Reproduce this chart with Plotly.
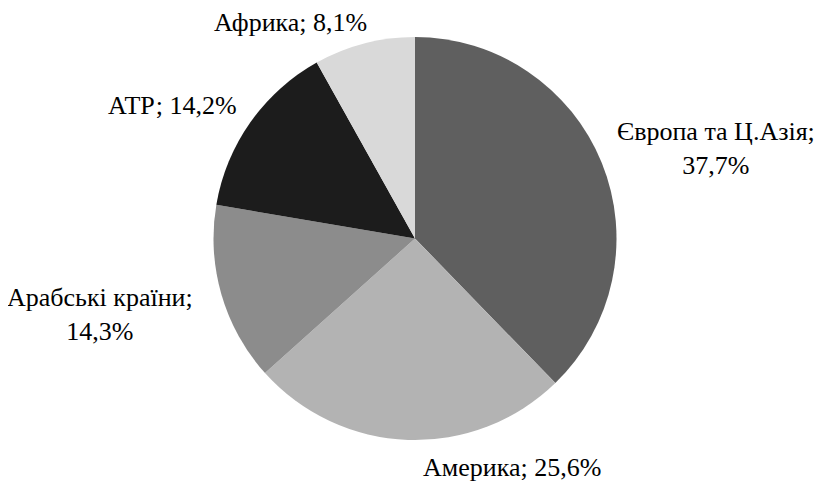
import plotly.graph_objects as go

categories = ["Європа та Ц.Азія", "Америка", "Арабські країни", "АТР", "Африка"]
values = [37.7, 25.6, 14.3, 14.2, 8.1]
label_texts = ["Європа та Ц.Азія;<br>37,7%", "Америка; 25,6%", "Арабські країни;<br>14,3%", "АТР; 14,2%", "Африка; 8,1%"]
colors = ["#5f5f5f", "#b3b3b3", "#8c8c8c", "#1c1c1c", "#d9d9d9"]

# page has an 8px body margin; figure sized to fit the window
OFF = 8
W, H = 824 - OFF, 481 - OFF
# label centers in window pixels (x, y from top)
label_px = [(716, 148), (512, 467), (100, 314), (172, 105), (290, 22)]
pie_box = (213, 37, 617, 440)  # left, top, right, bottom in window pixels

l, t, r, b = [v - OFF for v in pie_box]
fig = go.Figure(go.Pie(
    labels=categories, values=values, sort=False, direction="clockwise",
    rotation=0, marker=dict(colors=colors, line=dict(width=0)),
    textinfo="none", hoverinfo="label+percent", showlegend=False,
    domain=dict(x=[l / W, r / W], y=[(H - b) / H, (H - t) / H]),
))

FONT = "Times New Roman"
for txt, (px, py) in zip(label_texts, label_px):
    fig.add_annotation(x=(px - OFF) / W, y=1 - (py - OFF) / H, xref="paper", yref="paper",
                       text=txt, showarrow=False, xanchor="center", yanchor="middle",
                       font=dict(family=FONT, size=26, color="#000000"),
                       align="center")

fig.update_layout(width=W, height=H, margin=dict(l=0, r=0, t=0, b=0),
                  font=dict(family=FONT),
                  paper_bgcolor="white", plot_bgcolor="white")
fig.write_html("out.html")
